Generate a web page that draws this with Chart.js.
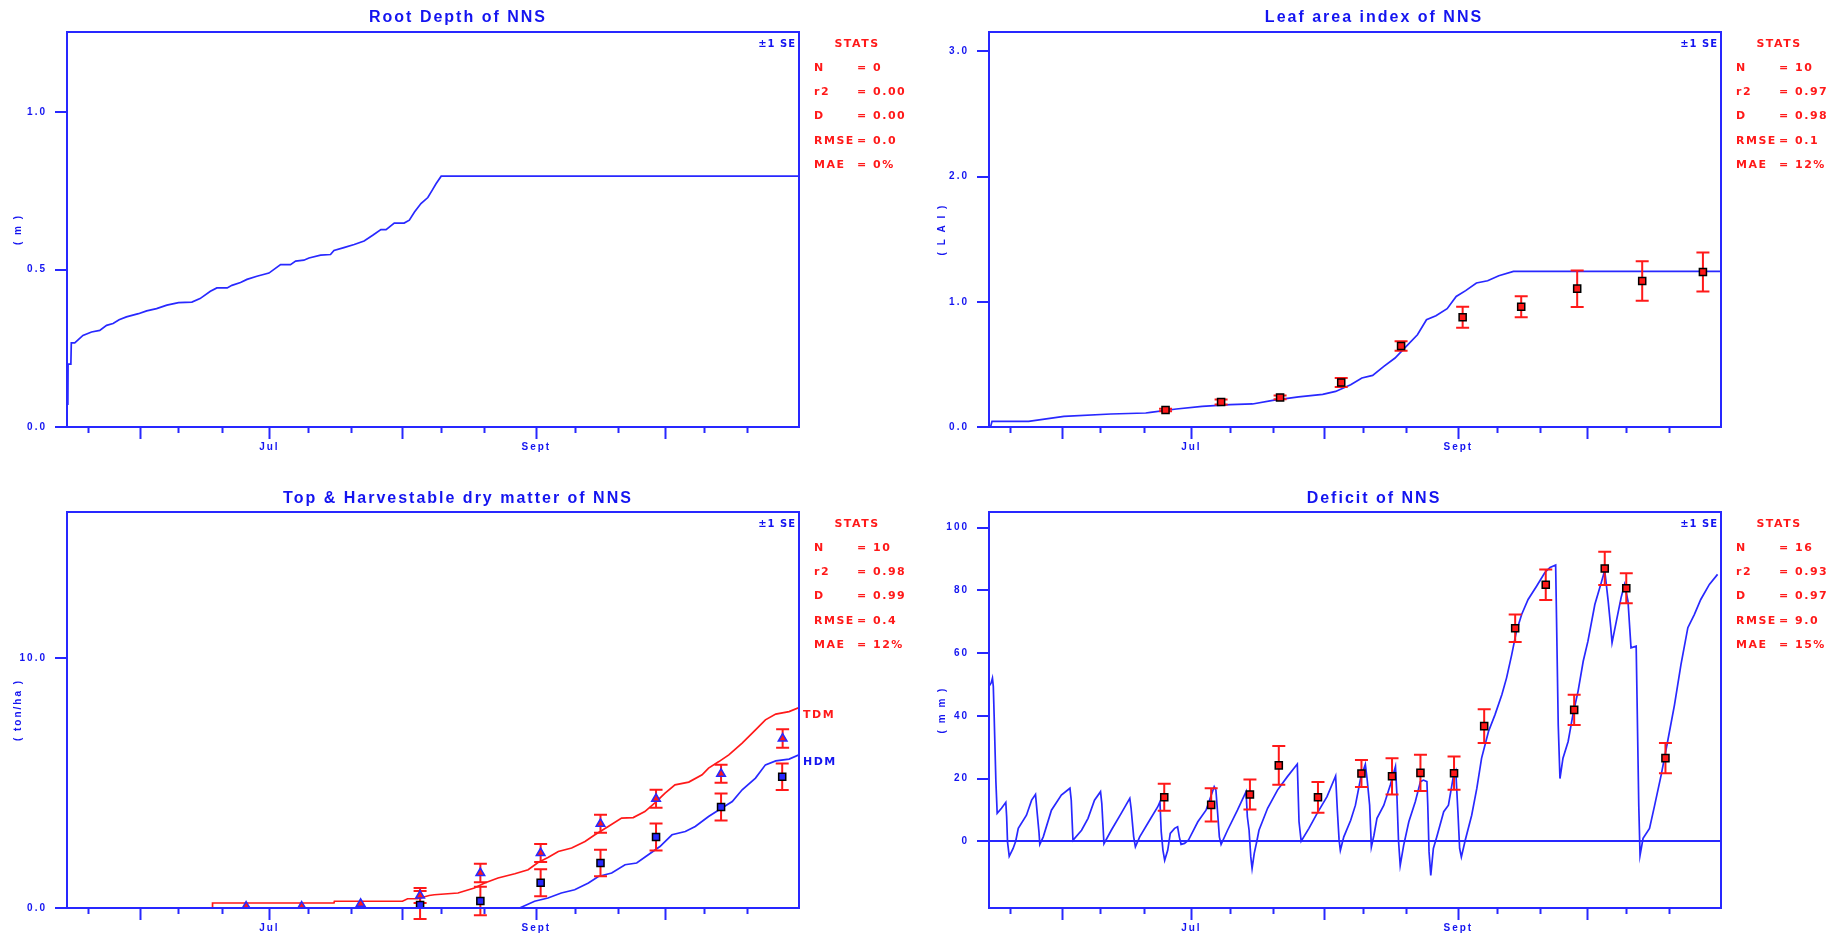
<!DOCTYPE html>
<html>
<head>
<meta charset="utf-8">
<script src="https://cdn.jsdelivr.net/npm/chart.js@4.4.0/dist/chart.umd.min.js"></script>
<style>
  body { margin: 0; background: #fff; }
  #wrap { position: relative; width: 1832px; height: 938px; }
  canvas { position: absolute; }
</style>
</head>
<body>
<div id="wrap">
  <canvas id="root" width="916" height="469" style="left:0;top:0"></canvas>
  <canvas id="lai" width="916" height="469" style="left:916px;top:0"></canvas>
  <canvas id="dm" width="916" height="469" style="left:0;top:469px"></canvas>
  <canvas id="def" width="916" height="469" style="left:916px;top:469px"></canvas>
</div>
<script>
// x axis: day of year
var dayTicks = [140, 152, 161, 171, 182, 191, 201, 213, 222, 232, 244, 253, 263, 274, 283, 293];
var monthStarts = [152, 182, 213, 244, 274];
var labelDays = [182, 244];
var labelNames = ['Jul', 'Sept'];

var statNames = ['N', 'r2', 'D', 'RMSE', 'MAE'];

// Root depth
var rootDays = [135.2, 135.25, 135.9, 136.0, 136.8, 138.7, 140.7, 142.6, 144.2, 145.7, 147.1, 148.8, 151.6, 153.5, 155.8, 158.2, 160.9, 164.0, 165.9, 168.3, 169.8, 172.2, 173.3, 175.3, 176.8, 179.1, 181.9, 184.6, 186.9, 188.1, 190.0, 191.2, 193.9, 196.2, 197.0, 199.3, 201.7, 204.0, 206.0, 207.9, 209.1, 211.0, 213.3, 214.5, 215.7, 217.2, 218.8, 219.9, 220.7, 221.9, 305];
var rootDepth = [0.07, 0.20, 0.20, 0.267, 0.267, 0.291, 0.302, 0.307, 0.323, 0.329, 0.341, 0.350, 0.360, 0.369, 0.376, 0.387, 0.395, 0.397, 0.408, 0.431, 0.442, 0.442, 0.450, 0.459, 0.469, 0.479, 0.489, 0.516, 0.516, 0.527, 0.530, 0.537, 0.546, 0.548, 0.561, 0.570, 0.580, 0.591, 0.609, 0.627, 0.627, 0.648, 0.648, 0.657, 0.683, 0.710, 0.729, 0.754, 0.773, 0.797, 0.797];
var rootTicks = [0, 0.5, 1.0];
var rootStats = ['0', '0.00', '0.00', '0.0', '0%'];

// Leaf area index
var laiDays = [135.4, 135.7, 144.2, 152.4, 163.3, 171.4, 172.5, 178.5, 184.5, 191.0, 196.2, 200.9, 206.9, 212.5, 215.5, 219.0, 221.6, 224.1, 226.7, 229.3, 231.9, 234.5, 236.6, 238.8, 241.4, 243.5, 245.7, 248.2, 250.8, 253.4, 256.8, 305];
var laiSim = [0.005, 0.045, 0.045, 0.085, 0.104, 0.112, 0.117, 0.144, 0.165, 0.178, 0.184, 0.212, 0.240, 0.260, 0.284, 0.338, 0.391, 0.412, 0.484, 0.551, 0.644, 0.737, 0.857, 0.889, 0.945, 1.043, 1.089, 1.150, 1.168, 1.208, 1.243, 1.243];
var laiObsDays = [176.0, 188.9, 202.6, 216.8, 230.7, 245.0, 258.6, 271.6, 286.7, 300.8];
var laiObs = [0.136, 0.200, 0.236, 0.356, 0.647, 0.876, 0.961, 1.105, 1.166, 1.238];
var laiObsSE = [0.01, 0.02, 0.015, 0.036, 0.037, 0.084, 0.084, 0.146, 0.157, 0.156];
var laiTicks = [0, 1, 2, 3];
var laiStats = ['10', '0.97', '0.98', '0.1', '12%'];

// Top & harvestable dry matter
var tdmDays = [135, 168.7, 168.8, 197.0, 197.1, 212.9, 214.1, 216.4, 219.1, 220.3, 225.8, 229.6, 232.0, 235.1, 239.0, 242.1, 244.4, 246.7, 249.1, 252.2, 255.3, 257.6, 260.7, 263.8, 266.5, 269.2, 271.6, 273.9, 276.2, 279.4, 282.5, 284.0, 286.4, 288.7, 291.8, 294.9, 297.2, 299.6, 302.7, 305];
var tdmSim = [0, 0, 0.2, 0.2, 0.27, 0.27, 0.37, 0.37, 0.50, 0.53, 0.60, 0.80, 1.00, 1.20, 1.37, 1.53, 1.82, 2.02, 2.26, 2.40, 2.66, 2.93, 3.26, 3.60, 3.62, 3.86, 4.22, 4.60, 4.93, 5.04, 5.33, 5.60, 5.86, 6.13, 6.60, 7.13, 7.53, 7.76, 7.86, 8.02];
var hdmDays = [135, 240.1, 243.6, 246.7, 249.8, 252.9, 256.1, 258.4, 261.5, 264.6, 267.3, 270.0, 272.7, 275.5, 278.6, 280.9, 284.0, 287.1, 289.5, 291.8, 294.9, 297.2, 299.6, 302.7, 305];
var hdmSim = [0, 0, 0.27, 0.40, 0.60, 0.73, 1.00, 1.26, 1.40, 1.73, 1.80, 2.13, 2.46, 2.93, 3.06, 3.26, 3.66, 4.00, 4.26, 4.73, 5.20, 5.73, 5.89, 5.96, 6.13];
var tdmObsDays = [176.6, 189.5, 203.2, 217.0, 231.0, 245.0, 258.9, 271.8, 286.9, 301.2];
var tdmObs = [0.06, 0.06, 0.17, 0.50, 1.40, 2.20, 3.37, 4.37, 5.37, 6.78];
var tdmObsSE = [0, 0, 0, 0.3, 0.37, 0.36, 0.36, 0.36, 0.36, 0.37];
var hdmObsDays = [217.0, 231.0, 245.0, 258.9, 271.8, 286.9, 301.1];
var hdmObs = [0.12, 0.28, 1.01, 1.80, 2.84, 4.04, 5.25];
var hdmObsSE = [0.56, 0.57, 0.54, 0.53, 0.54, 0.54, 0.53];
var dmTicks = [0, 10];
var dmStats = ['10', '0.98', '0.99', '0.4', '12%'];

// Soil water deficit
var defDays = [135.0,135.5,135.8,136.0,136.2,136.6,136.9,137.9,138.9,139.1,
  139.3,139.7,140.6,141.2,141.8,143.7,144.9,145.8,146.2,146.6,
  146.8,147.6,149.5,151.8,153.8,154.1,154.5,156.5,158.0,159.5,
  160.9,161.2,161.7,163.4,165.7,167.7,168.0,168.6,169.0,170.0,
  172.3,174.2,174.7,175.0,175.4,175.8,176.5,177.1,178.1,178.8,
  179.2,179.6,180.4,181.3,183.5,185.4,187.3,187.7,188.1,188.5,
  188.9,190.4,192.7,194.7,195.0,195.4,195.8,196.1,196.6,197.2,
  197.7,199.7,202.0,204.3,206.6,207.0,207.5,209.3,211.2,213.5,
  215.5,215.9,216.3,216.6,217.4,219.0,220.1,221.3,222.4,222.8,
  223.4,223.8,224.4,225.1,226.7,228.2,229.4,229.7,230.1,230.5,
  231.3,232.5,234.0,235.2,235.9,236.7,236.9,237.2,237.6,238.2,
  239.0,240.6,241.7,242.9,243.4,243.9,244.3,244.7,245.6,247.1,
  248.3,249.4,251.0,252.5,254.1,255.2,256.4,257.5,258.7,260.2,
  262.2,264.1,265.3,266.6,266.8,267.2,267.6,268.3,269.5,270.6,
  271.8,273.0,274.1,275.7,277.2,278.0,278.8,279.4,279.7,280.7,
  281.8,282.6,283.4,284.1,285.3,285.5,285.9,286.2,286.9,288.4,
  289.6,291.1,292.6,294.2,295.7,297.3,298.8,300.3,302.3,304.2];
var defSim = [49.4,50.5,52,49.4,39.8,19,8.9,10.5,12.4,7.8,
  -0.2,-4.8,-2.3,0,4.1,8.3,13.1,14.9,8.9,3,
  -1,1.4,9.9,14.7,16.9,13.1,0.3,3.5,7.3,13.1,
  15.8,12,-0.8,3.5,8.9,13.7,10.5,1.4,-1.8,1.4,
  6.7,11,12.6,3,-2.9,-6.1,-2.9,2.5,4.1,4.6,
  1.4,-1,-0.7,0.3,6.2,9.9,17.4,16.3,8.9,1.4,
  -1,3.5,9.9,15.8,7.8,3.5,-5,-8.7,-3.9,0,
  3.5,10.5,16.3,20.6,24.6,6.2,0,4.1,8.9,14.2,
  20.8,9.9,0.5,-2.9,1.4,6.7,11.5,20,24.5,20,
  11.5,-1.8,1.9,7.3,11.5,17.9,23.8,15.8,0.3,-7.7,
  -1.3,6.2,12.6,19,19.5,19,11.5,-3.4,-10.9,-2.3,
  1.4,9.4,11.5,21.1,22.5,9.4,-2.3,-5,0.3,8.3,
  16.9,26.5,35,40.3,46.7,52.1,59.5,67,72.3,77.1,
  81.4,85.7,87.3,88.1,71.3,37.1,20,26.5,31.8,40.3,
  47.8,57.4,63.8,75.5,82.5,86.4,76.6,68.1,63.3,70.2,
  77.7,81.9,76.6,61.7,62.2,45.7,11.5,-4.5,0.9,4.1,
  11.5,21.1,31.8,43.5,56.3,68.1,72.3,77.1,81.9,85.1];
var defObsDays = [175.7, 186.6, 195.6, 202.3, 211.4, 221.5, 228.6, 235.2, 243.0, 250.0, 257.2, 264.3, 270.9, 278.0, 283.0, 292.1];
var defObs = [14.0, 11.6, 14.9, 24.2, 14.0, 21.6, 20.7, 21.8, 21.7, 36.7, 67.9, 81.8, 41.9, 87.0, 80.7, 26.5];
var defObsSE = [4.3, 5.3, 4.8, 6.2, 4.9, 4.3, 5.8, 5.8, 5.3, 5.4, 4.4, 4.9, 4.8, 5.3, 4.8, 4.8];
var defTicks = [0, 20, 40, 60, 80, 100];
var defStats = ['16', '0.93', '0.97', '9.0', '15%'];

var BLUE = 'rgb(20,20,240)';
var LINE_BLUE = 'rgb(40,40,255)';
var RED = 'rgb(255,25,25)';

function toXY(xs, ys) {
  var out = [];
  for (var i = 0; i < Math.min(xs.length, ys.length); i++) out.push({ x: xs[i], y: ys[i] });
  return out;
}

function simLine(xs, ys, color) {
  return { data: toXY(xs, ys), borderColor: color, borderWidth: 1.7, pointRadius: 0, fill: false, tension: 0 };
}

function obsPoints(xs, ys, style, fill, edge) {
  return { data: toXY(xs, ys), showLine: false, pointStyle: style, pointRadius: 5,
    backgroundColor: fill, borderColor: edge, borderWidth: 1.5 };
}

// frame, error bars, stats box, end labels
function makeDeco(cfg) {
  return {
    id: 'deco',
    beforeUpdate: function (chart) { chart.ctx.letterSpacing = '2px'; },
    beforeDraw: function (chart) { chart.ctx.letterSpacing = '2px'; },
    afterDatasetDraw: function (chart, args) {
      if (args.index !== cfg.barsAfter) return;
      var ctx = chart.ctx, xs = chart.scales.x, ys = chart.scales.y;
      ctx.save();
      ctx.strokeStyle = RED;
      ctx.lineWidth = 2;
      (cfg.bars || []).forEach(function (b) {
        for (var i = 0; i < b.days.length; i++) {
          if (!b.se[i]) continue;
          var px = xs.getPixelForValue(b.days[i]);
          var hi = ys.getPixelForValue(b.vals[i] + b.se[i]);
          var lo = ys.getPixelForValue(b.vals[i] - b.se[i]);
          ctx.beginPath();
          ctx.moveTo(px, hi); ctx.lineTo(px, lo);
          ctx.moveTo(px - 6.5, hi); ctx.lineTo(px + 6.5, hi);
          ctx.moveTo(px - 6.5, lo); ctx.lineTo(px + 6.5, lo);
          ctx.stroke();
        }
      });
      ctx.restore();
    },
    afterDraw: function (chart) {
      var ctx = chart.ctx, a = chart.chartArea, ys = chart.scales.y;
      ctx.save();
      ctx.strokeStyle = LINE_BLUE;
      ctx.lineWidth = 2;
      ctx.strokeRect(a.left, a.top, a.right - a.left, a.bottom - a.top);

      ctx.textBaseline = 'middle';
      ctx.letterSpacing = '1px';
      ctx.font = 'bold 10px "DejaVu Sans"';
      ctx.fillStyle = BLUE;
      ctx.textAlign = 'right';
      ctx.fillText('\u00b11 SE', a.right - 3, a.top + 12);

      ctx.letterSpacing = '1.5px';
      ctx.font = 'bold 11px "DejaVu Sans"';
      ctx.fillStyle = RED;
      ctx.textAlign = 'center';
      ctx.fillText('STATS', a.right + 58, a.top + 12);
      ctx.textAlign = 'left';
      for (var i = 0; i < statNames.length; i++) {
        var y = a.top + 36 + i * 24.25;
        ctx.fillText(statNames[i], a.right + 15, y);
        ctx.fillText('= ' + cfg.stats[i], a.right + 58, y);
      }

      (cfg.endLabels || []).forEach(function (l) {
        ctx.fillStyle = l.color;
        ctx.fillText(l.text, a.right + 4, ys.getPixelForValue(l.vals[l.vals.length - 1]) + 7.5);
      });
      ctx.restore();
    }
  };
}

function makePanel(id, cfg) {
  var tickFont = { family: 'Liberation Sans', size: 10, weight: 'bold' };
  return new Chart(document.getElementById(id), {
    type: 'line',
    data: { datasets: cfg.datasets },
    options: {
      responsive: false,
      animation: false,
      events: [],
      layout: { padding: 0 },
      plugins: {
        legend: { display: false },
        tooltip: { enabled: false },
        title: {
          display: true, text: cfg.title, color: BLUE,
          font: { family: 'Liberation Sans', size: 16, weight: 'bold', lineHeight: 1.2 },
          padding: { top: cfg.titleTop, bottom: cfg.titleBottom }
        }
      },
      scales: {
        x: {
          type: 'linear', position: 'bottom', min: 135, max: 305,
          afterBuildTicks: function (s) { s.ticks = dayTicks.map(function (v) { return { value: v }; }); },
          ticks: {
            autoSkip: false, maxRotation: 0, color: BLUE, padding: 2, font: tickFont,
            callback: function (v) { var k = labelDays.indexOf(v); return k >= 0 ? labelNames[k] : ''; }
          },
          grid: {
            drawOnChartArea: false, tickLength: 12, tickWidth: 2, tickColor: LINE_BLUE,
            tickBorderDash: function (c) { return monthStarts.indexOf(c.tick.value) >= 0 ? [] : [6, 20]; }
          },
          border: { display: false },
          afterFit: function (s) { s.height = cfg.xAxisH; }
        },
        y: {
          type: 'linear', position: 'left', min: cfg.yMin, max: cfg.yMax,
          afterBuildTicks: function (s) { s.ticks = cfg.yTicks.map(function (v) { return { value: v }; }); },
          ticks: {
            color: BLUE, padding: 8, font: tickFont,
            callback: function (v) { return v.toFixed(cfg.dec); }
          },
          grid: {
            drawOnChartArea: !!cfg.zeroLine, tickLength: 12, tickWidth: 2, tickColor: LINE_BLUE, lineWidth: 2,
            color: function (c) { return c.tick && c.tick.value === 0 ? LINE_BLUE : 'rgba(0,0,0,0)'; }
          },
          border: { display: false },
          title: { display: true, text: cfg.yTitle, color: BLUE, font: tickFont,
            padding: { top: cfg.yTitlePad, bottom: 0 } },
          afterFit: function (s) { s.width = cfg.yAxisW; }
        },
        yr: {
          type: 'linear', position: 'right', display: true,
          grid: { display: false, drawTicks: false },
          ticks: { display: false },
          border: { display: false },
          afterFit: function (s) { s.width = cfg.rightW; }
        }
      }
    },
    plugins: [makeDeco(cfg)]
  });
}

makePanel('root', {
  title: 'Root Depth of NNS', titleTop: 8.4, titleBottom: 4.4,
  yAxisW: 67, rightW: 117, xAxisH: 42,
  yMin: 0, yMax: 1.255, yTicks: rootTicks, dec: 1, yTitle: '( m )', yTitlePad: 12,
  stats: rootStats,
  datasets: [simLine(rootDays, rootDepth, LINE_BLUE)]
});

makePanel('lai', {
  title: 'Leaf area index of NNS', titleTop: 8.4, titleBottom: 4.4,
  yAxisW: 73, rightW: 111, xAxisH: 42,
  yMin: 0, yMax: 3.155, yTicks: laiTicks, dec: 1, yTitle: '( L A I )', yTitlePad: 20,
  stats: laiStats,
  barsAfter: 1,
  bars: [{ days: laiObsDays, vals: laiObs, se: laiObsSE }],
  datasets: [
    obsPoints(laiObsDays, laiObs, 'rect', RED, '#000'),
    simLine(laiDays, laiSim, LINE_BLUE)
  ]
});

makePanel('dm', {
  title: 'Top & Harvestable dry matter of NNS', titleTop: 20.4, titleBottom: 3.4,
  yAxisW: 67, rightW: 117, xAxisH: 30,
  yMin: 0, yMax: 15.85, yTicks: dmTicks, dec: 1, yTitle: '( ton/ha )', yTitlePad: 12,
  stats: dmStats,
  barsAfter: 2,
  bars: [{ days: tdmObsDays, vals: tdmObs, se: tdmObsSE }, { days: hdmObsDays, vals: hdmObs, se: hdmObsSE }],
  endLabels: [{ text: 'TDM', color: RED, vals: tdmSim }, { text: 'HDM', color: BLUE, vals: hdmSim }],
  datasets: [
    obsPoints(tdmObsDays, tdmObs, 'triangle', RED, LINE_BLUE),
    obsPoints(hdmObsDays, hdmObs, 'rect', LINE_BLUE, '#000'),
    simLine(tdmDays, tdmSim, RED),
    simLine(hdmDays, hdmSim, LINE_BLUE)
  ]
});

makePanel('def', {
  title: 'Deficit of NNS', titleTop: 20.4, titleBottom: 3.4,
  yAxisW: 73, rightW: 111, xAxisH: 30,
  yMin: -21.3, yMax: 105, yTicks: defTicks, dec: 0, yTitle: '( m m )', yTitlePad: 20, zeroLine: true,
  stats: defStats,
  barsAfter: 1,
  bars: [{ days: defObsDays, vals: defObs, se: defObsSE }],
  datasets: [
    obsPoints(defObsDays, defObs, 'rect', RED, '#000'),
    simLine(defDays, defSim, LINE_BLUE)
  ]
});
</script>
</body>
</html>
